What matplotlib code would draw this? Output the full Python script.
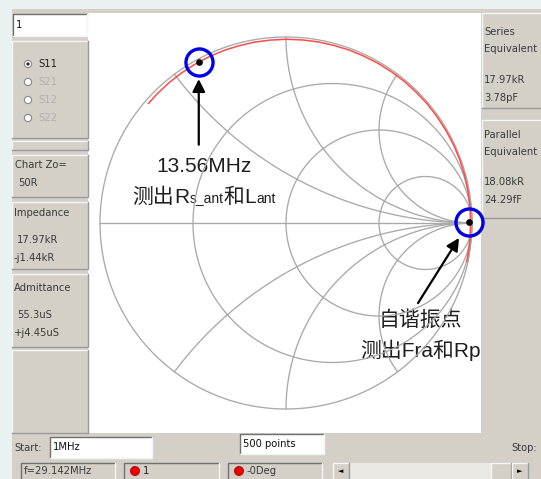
import numpy as np
import matplotlib
matplotlib.use("Agg")
import matplotlib.pyplot as plt
from matplotlib.patches import Rectangle, Circle

# ---------------- data ----------------
r_circles = [1/3, 1.0, 3.0]            # constant-resistance circles
x_arcs = [0.5, 1.0, 2.0]               # constant-reactance arcs (+/-)
trace_angle_deg = [139, 135, 130, 125, 120, 115, 110, 105, 100, 95, 90, 85, 80, 75, 70,
                   65, 60, 55, 50, 45, 40, 35, 30, 25, 20, 15, 10, 5, 0, -5, -10, -12]
trace_mag = [0.980, 0.981, 0.982, 0.983, 0.984, 0.985, 0.986, 0.986, 0.987, 0.987, 0.988,
             0.988, 0.989, 0.989, 0.990, 0.990, 0.991, 0.991, 0.992, 0.992, 0.993, 0.993,
             0.993, 0.994, 0.994, 0.994, 0.993, 0.993, 0.992, 0.993, 0.993, 0.994]
marker_re = [-0.469, 0.984]
marker_im = [0.867, 0.005]

left_radio = ["S11", "S21", "S12", "S22"]
chart_zo = ["Chart Zo=", "50R"]
impedance = ["Impedance", "17.97kR", "-j1.44kR"]
admittance = ["Admittance", "55.3uS", "+j4.45uS"]
series_eq = ["Series", "Equivalent", "17.97kR", "3.78pF"]
parallel_eq = ["Parallel", "Equivalent", "18.08kR", "24.29fF"]
status = ["f=29.142MHz", "1", "-0Deg"]

W, H = 541, 479
fig = plt.figure(figsize=(W / 100, H / 100), dpi=100)
bg = fig.add_axes([0, 0, 1, 1])
bg.set_xlim(0, W)
bg.set_ylim(H, 0)
bg.axis("off")

GRAY = "#d4d0c8"
PAGE = "#e9f1f1"
TXT = "#3a3a3a"
UIF = ["DejaVu Sans"]


def rect(x0, y0, x1, y1, fc, ec="none", lw=0.8, z=1):
    bg.add_patch(Rectangle((x0, y0), x1 - x0, y1 - y0, facecolor=fc, edgecolor=ec, lw=lw, zorder=z))


def sunken(x0, y0, x1, y1, fc="white"):
    rect(x0, y0, x1, y1, fc, z=2)
    bg.plot([x0, x0, x1], [y1, y0, y0], color="#707070", lw=1.0, zorder=3)
    bg.plot([x0, x1, x1], [y1, y1, y0], color="#f4f4f4", lw=1.0, zorder=3)


def raised(x0, y0, x1, y1, fc=GRAY):
    rect(x0, y0, x1, y1, fc, z=2)
    bg.plot([x0, x0, x1], [y1, y0, y0], color="#f6f6f6", lw=1.0, zorder=3)
    bg.plot([x0, x1, x1], [y1, y1, y0], color="#9a9a9a", lw=1.0, zorder=3)


def uitext(x, y, s, color=TXT, size=7.2, ha="left", clip=None):
    t = bg.text(x, y, s, fontsize=size, color=color, family=UIF, ha=ha, va="center", zorder=5)
    return t


# page and application background
rect(0, 0, W, H, PAGE, z=0)
rect(12, 9, W, H, GRAY, z=0.5)
rect(88, 13, 481, 433, "white", z=1)

# top-left text box
sunken(13, 14, 87, 36)
uitext(16, 25, "1", color="#111111")

# radio group
raised(12, 41, 88, 138)
for i, s in enumerate(left_radio):
    yy = 64 + 18 * i
    bg.add_patch(Circle((28, yy), 3.6, facecolor="white", edgecolor="#888888", lw=0.8, zorder=4))
    if i == 0:
        bg.add_patch(Circle((28, yy), 1.6, facecolor="#222222", edgecolor="none", zorder=5))
        uitext(38, yy, s, color="#222222")
    else:
        uitext(38, yy, s, color="#b0b0b0")
raised(12, 141, 88, 150)

raised(12, 155, 88, 197)
uitext(15, 165, chart_zo[0])
uitext(18, 183, chart_zo[1])

raised(12, 202, 88, 269)
uitext(14, 213, impedance[0])
uitext(17, 240, impedance[1])
uitext(14, 258, impedance[2])

raised(12, 274, 88, 347)
uitext(14, 288, admittance[0])
uitext(17, 315, admittance[1])
uitext(14, 333, admittance[2])
raised(12, 350, 88, 433)

# right panels
raised(482, 13, 545, 108)
raised(482, 120, 545, 218)
for yy, s in zip([32, 49, 80, 98], series_eq):
    uitext(484, yy, s)
for yy, s in zip([135, 152, 182, 200], parallel_eq):
    uitext(484, yy, s)

# bottom controls
uitext(14, 448, "Start:")
sunken(50, 437, 152, 458)
uitext(53, 447, "1MHz", color="#111111")
sunken(240, 434, 324, 454)
uitext(243, 444, "500 points", color="#111111")
uitext(511, 448, "Stop:")

sunken(21, 463, 115, 480, fc=GRAY)
uitext(24, 471, status[0])
sunken(124, 463, 219, 480, fc=GRAY)
bg.add_patch(Circle((135, 471), 4.5, facecolor="#ee0000", edgecolor="#990000", lw=0.6, zorder=5))
uitext(143, 471, status[1], color="#222222")
sunken(228, 463, 322, 480, fc=GRAY)
bg.add_patch(Circle((239, 471), 4.5, facecolor="#ee0000", edgecolor="#990000", lw=0.6, zorder=5))
uitext(247, 471, status[2])

rect(333, 463, 528, 480, "#ebe9e3", z=2)
raised(333, 463, 349, 480)
bg.text(341, 471, "\u25c4", fontsize=5, ha="center", va="center", family=UIF, zorder=5)
raised(491, 463, 511, 480)
raised(512, 463, 528, 480)
bg.text(520, 471, "\u25ba", fontsize=5, ha="center", va="center", family=UIF, zorder=5)

# ---------------- Smith chart ----------------
cx, cy, R = 286, 223, 186
ax = fig.add_axes([(cx - R) / W, 1 - (cy + R) / H, 2 * R / W, 2 * R / H])
ax.set_xlim(-1, 1)
ax.set_ylim(-1, 1)
ax.axis("off")
ax.patch.set_alpha(0)

GC = "#a9a9a9"
GLW = 0.95
th = np.linspace(0, 2 * np.pi, 721)
ax.plot(np.cos(th), np.sin(th), color=GC, lw=GLW, zorder=2, clip_on=False)
ax.plot([-1, 1], [0, 0], color=GC, lw=GLW, zorder=2, clip_on=False)
for r in r_circles:
    c, rad = r / (1 + r), 1 / (1 + r)
    ax.plot(c + rad * np.cos(th), rad * np.sin(th), color=GC, lw=GLW, zorder=2, clip_on=False)
rr = np.concatenate([np.linspace(0, 1, 300), np.logspace(0, 4, 400)])
for xv in x_arcs:
    for s in (1, -1):
        z = rr + 1j * s * xv
        g = (z - 1) / (z + 1)
        ax.plot(g.real, g.imag, color=GC, lw=GLW, zorder=2, clip_on=False)

ang = np.deg2rad(trace_angle_deg)
mag = np.array(trace_mag)
ax.plot(mag * np.cos(ang), mag * np.sin(ang), color="#ff4a4a", lw=1.1, zorder=3, clip_on=False)

ax.plot(marker_re, marker_im, "o", ms=19.5, mfc="none", mec="#0000e6", mew=2.4, zorder=6, clip_on=False)
ax.plot(marker_re, marker_im, "o", ms=3.8, color="black", zorder=7, clip_on=False)

aprops = dict(arrowstyle="-|>,head_length=0.75,head_width=0.38", mutation_scale=10,
              color="black", lw=1.6, shrinkA=0)
ax.annotate("", xy=(marker_re[0], marker_im[0]), xycoords="data",
            xytext=(0, -83), textcoords="offset pixels",
            arrowprops=dict(aprops, shrinkB=12.5))
ax.annotate("", xy=(marker_re[1], marker_im[1]), xycoords="data",
            xytext=(-51, -81), textcoords="offset pixels",
            arrowprops=dict(aprops, shrinkB=13.5))

# ---------------- annotation text ----------------
FAM = ["Liberation Sans", "Noto Sans CJK SC"]
renderer = fig.canvas.get_renderer()


def runs(xc, y, parts):
    objs = []
    for s, fs, dy in parts:
        t = bg.text(0, y + dy, s, fontsize=fs, family=FAM, color="#1e1e1e",
                    ha="left", va="baseline", zorder=8)
        objs.append(t)
    widths = [t.get_window_extent(renderer).width for t in objs]
    x = xc - sum(widths) / 2
    for t, w in zip(objs, widths):
        t.set_x(x)
        x += w


BIG, SMALL = 15, 10
runs(204, 172, [("13.56MHz", BIG, 0)])
runs(204, 203, [("测出", BIG, 0), ("R", BIG, 0), ("s_ant", SMALL, 0),
                 ("和", BIG, 0), ("L", BIG, 0), ("ant", SMALL, 0)])
runs(420, 326, [("自谐振点", BIG, 0)])
runs(420, 357, [("测出Fra和Rp", BIG, 0)])

fig.savefig("out.png", dpi=100)
